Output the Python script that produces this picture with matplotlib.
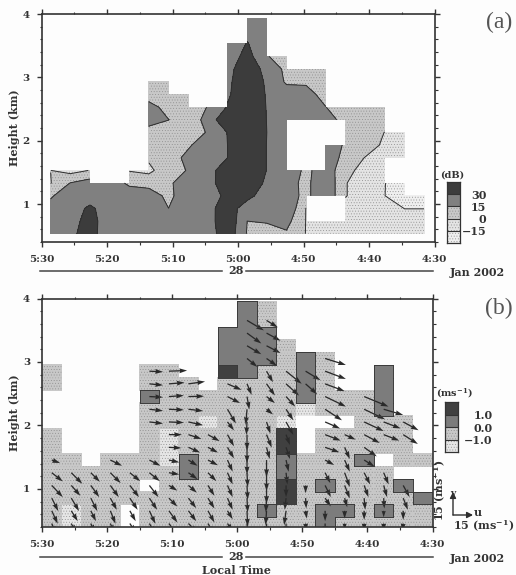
import numpy as np
import matplotlib
matplotlib.use('Agg')
import matplotlib.pyplot as plt
from matplotlib.colors import ListedColormap
from matplotlib.ticker import MultipleLocator

plt.rcParams['font.family'] = ['DejaVu Serif']
plt.rcParams['font.weight'] = 'bold'
plt.rcParams['axes.labelweight'] = 'bold'
plt.rcParams['mathtext.fontset'] = 'dejavuserif'
plt.rcParams['mathtext.default'] = 'bf'
plt.rcParams['hatch.linewidth'] = .3
plt.rcParams['hatch.color'] = '#8c8c8c'

W, H = 516, 575
n = np.nan
INK = '#333333'
STIPPLE = '......'
time_labels = ['5:30', '5:20', '5:10', '5:00', '4:50', '4:40', '4:30']

# (a) reflectivity in dB, bottom row first, one row per 0.2 km, one column per 3 min
db_x = 1.4 + 3 * np.arange(20)
db_y = 0.53 + 0.2 * np.arange(18)
db = np.array([
    [20, 27, 36, 20, 25, 25, 25, 25, 22, 40, 14, 10, 13, -.5, -5, -5, -8, -8, -10, -10],
    [20, 22, 38, 18, 24, 25, 25, 25, 23, 42, 15, 16, 20, -.5, -4, -4, -6, -10, -12, -12],
    [18, 22, 33, 22, 24, 22, 15.1, 22, 24, 40, 20, 22, 29, -.5, n, -3, -6, -10, -15.1, -15.1],
    [14, 20, 22, 22, 18, 25, 10, 28, 22, 34, 36, 20, 22, 11, 28, .5, -5, -14.9, -20, -20],
    [-.5, 15.5, 22, 18, 14, 8, 12, 25, 25, 38, 45, 26, 21, 11, 28, .5, -5, -14.8, -20, n],
    [.1, -5.3, .5, n, -1, -3, 8, 16, 22, 42, 50, 29.5, 24, 12, 22, 7, -8, -10, n, n],
    [n, n, n, n, n, 2, 8, 19, 26, 30, 50, 29.5, 22, n, 25, 10, -.5, -8, -8, n],
    [n, n, n, n, n, 6, 8, 13, 24, 30, 50, 29.5, 22, n, 25, 13, 8, -3, -6, n],
    [n, n, n, n, n, 10, 8, 8, 16, 30.5, 50, 30, 22, n, n, 10, 6, -.2, -8, n],
    [n, n, n, n, n, 20, 15.2, 8, 19, 45, 50, 29.5, 24, 20, 20, 11, 8, 6, n, n],
    [n, n, n, n, n, 20, 10, 8, 15.5, 31, 50, 29, 18, 18, 15.2, 8, 8, 6, n, n],
    [n, n, n, n, n, 8, 6, 5, n, 28, 40, 29, 22, 20, 10, n, n, n, n, n],
    [n, n, n, n, n, 5, 4, n, n, 27, 40, 28, 13, 13, 5, n, n, n, n, n],
    [n, n, n, n, n, n, n, n, n, 24, 42, 24, 12, 8, 4, n, n, n, n, n],
    [n, n, n, n, n, n, n, n, n, 20, 36, 16, 8, n, n, n, n, n, n, n],
    [n, n, n, n, n, n, n, n, n, 17, 31, 18, n, n, n, n, n, n, n, n],
    [n, n, n, n, n, n, n, n, n, n, 25, 22, n, n, n, n, n, n, n, n],
    [n, n, n, n, n, n, n, n, n, n, 22, 22, n, n, n, n, n, n, n, n],
])
db_levels = [-15, 0, 15, 30]
db_colors = ['#efefef', '#e4e4e4', '#c8c8c8', '#808080', '#3c3c3c']
db_hatches = [STIPPLE, STIPPLE, STIPPLE, None, None]

# (b) vertical velocity class per cell, top row first: . none, 1 < -1, 2 -1..0, 3 0..1, 4 > 1
w_x_edges = 3.0 * np.arange(21)
w_y_edges = 0.355 + 0.2 * np.arange(19)
w_rows = [
    '..........32........',
    '..........32........',
    '.........333........',
    '.........3332.......',
    '.........333232.....',
    '2....22..432232..3..',
    '2....222.222232..3..',
    '.....3222222232223..',
    '.....2222222212223..',
    '.....22212221...222.',
    '2....21222224.22222.',
    '2....21222224.22222.',
    '22.22213222232223.22',
    '222222232222322222..',
    '22222.22222242322232.'[:18] + '3.',
    '22222222222242222223',
    '2122.222222322332322',
    '2122.222222222322222',
]
w_cells = np.array([[0 if c == '.' else int(c) for c in r] for r in w_rows[::-1]], dtype=float)
w_labels = ['1.0', '0.0', '\u22121.0']
w_colors = ['#f0f0f0', '#e6e6e6', '#c8c8c8', '#7c7c7c', '#404040']

# horizontal wind at the cell centres, m/s, bottom row first
wind_u = np.array([
    [3.3, 3.5, 3, 3, 4.5, 4.6, 8, 7, 4.6, 4, .5, 0, 0, .5, 0, 0, 0, 0, -.7, n],
    [4.6, 5, 4, 4, 4.5, 4.6, 6.5, 6, 5, 4, .5, -.7, -1.5, 1, 0, 0, 0, 0, 0, n],
    [5, 6, 5, 5, 6, 6, 6.5, 6, 5, 4, .5, -.5, -1, .5, 4.4, 2, .8, .5, 3.6, n],
    [8.5, 7, 6.5, 6.5, 7, 7, 6.5, 6.5, 5, 4, .5, 0, 0, 0, 4.4, 4, 3.3, 2.6, 4.9, n],
    [8.5, 8.5, 7, 8, 8, 8, 8, 7, 6.5, 4, .5, 0, 1, n, 4, 4, 4.6, 3.8, n, n],
    [6.4, n, n, 9, n, 8.5, 8, 7, 7.7, 4, 0, 0, 2, n, 7, 4, 8, n, n, n],
    [n, n, n, n, n, n, 9.5, 9, 7.7, 5, 0, 2.5, 3, n, 11, 4, 9.7, n, n, n],
    [n, n, n, n, n, n, 10, 10, 9, 5, 0, 4, 3, n, 12, 8.5, 12, 12, 11.3, n],
    [n, n, n, n, n, 10.5, 11.5, 11.3, n, 5, -.5, 3, 5.6, n, 11.5, n, 15, 13, 11.8, n],
    [n, n, n, n, n, 10.5, 11.5, 11.3, n, 6.5, -1, 5, 5.6, n, 13, n, 16, 15, n, n],
    [n, n, n, n, n, 10.5, 11.5, 12, n, 9.7, 1.8, 6.5, 7, n, 16, n, 18.7, n, n, n],
    [n, n, n, n, n, 10.5, 12, 12.8, n, 10.8, 3.6, 6.5, 10, 9, 15, n, n, n, n, n],
    [n, n, n, n, n, 10.5, 14, n, n, n, n, 5, 12, 11.5, 16, n, n, n, n, n],
    [n, n, n, n, n, n, n, n, n, n, 8, 8, n, n, 16, n, n, n, n, n],
    [n, n, n, n, n, n, n, n, n, n, 11, 10.8, n, n, n, n, n, n, n, n],
    [n, n, n, n, n, n, n, n, n, n, 11, 10.8, n, n, n, n, n, n, n, n],
    [n, n, n, n, n, n, n, n, n, n, 13, 8.7, n, n, n, n, n, n, n, n],
])
wind_v = np.array([
    [-8, -7, -7, -7, -7, -8, -11, -7, -8, -6, -9, -8, -8, -6, -8, -5, -6, -6, -6, n],
    [-10, -8, -8, -10, -8, -10, -9, -8, -9, -6.5, -12, -11, -11, -6, -8, -6, -7, -5, -7, n],
    [-10, -10, -10, -9, -9, -9, -6.5, -7.7, -8, -9, -11, -11, -9, -8, -6.4, -7, -9, -8, -9, n],
    [-9, -8, -9, -9, -9, -9, -4, -5.6, -8, -9, -11, -14, -9, -6, -9, -10, -9, -9, -9, n],
    [-6.7, -8.5, -7, -8, -6.5, -6.5, -1.3, -5, -6.5, -9, -11, -14, -9, n, -8, -11, -9, -9, n, n],
    [-2.3, n, n, -4.4, n, -4.4, -1.8, -4.4, -4, -9, -11, -13, -9, n, -3.8, -9, -5, n, n, n],
    [n, n, n, n, n, n, -.5, -4, -4, -8.5, -12, -9, -9, n, -3.8, -9, -7, n, n, n],
    [n, n, n, n, n, n, 0, -3.3, -5, -9, -12, -10, -8, n, -4.6, -3.8, -6.4, -4.6, -7.2, n],
    [n, n, n, n, n, -1.2, -.5, -2.5, n, -6.5, -10, -9, -10, n, -5, n, -7, -5, -6.4, n],
    [n, n, n, n, n, -1.2, -.5, -1.3, n, -11, -12, -4, -8.5, n, -8.5, n, -7.7, -4.4, n, n],
    [n, n, n, n, n, -.5, .8, .3, n, -5, -10, -5, -7.7, n, -7.7, n, -7.7, n, n, n],
    [n, n, n, n, n, -1, 1, 1.8, n, -4.6, -8.5, -9, -9, -8, -5.6, n, n, n, n, n],
    [n, n, n, n, n, -.5, .5, n, n, n, n, -8.5, -9.7, -7, -6, n, n, n, n, n],
    [n, n, n, n, n, n, n, n, n, n, -6.5, -5.6, n, n, -5, n, n, n, n, n],
    [n, n, n, n, n, n, n, n, n, n, -6.5, -5.6, n, n, n, n, n, n, n, n],
    [n, n, n, n, n, n, n, n, n, n, -8, -5.9, n, n, n, n, n, n, n, n],
    [n, n, n, n, n, n, n, n, n, n, -7.7, -5.4, n, n, n, n, n, n, n, n],
])


def px_axes(x0, y0, x1, y1):
    return fig.add_axes([x0 / W, 1 - y1 / H, (x1 - x0) / W, (y1 - y0) / H])


def ftext(x, y, s, **kw):
    kw.setdefault('ha', 'center')
    kw.setdefault('va', 'center')
    kw.setdefault('color', INK)
    kw.setdefault('fontsize', 7.5)
    fig.text(x / W, 1 - y / H, s, **kw)


def setup_axes(ax, y_line):
    ax.set_xlim(0, 60)
    ax.set_ylim(0.4, 4)
    ax.set_xticks(np.arange(0, 61, 10))
    ax.set_xticklabels(time_labels)
    ax.set_yticks([1, 2, 3, 4])
    ax.xaxis.set_minor_locator(MultipleLocator(5))
    ax.yaxis.set_minor_locator(MultipleLocator(0.2))
    ax.tick_params(which='major', direction='out', length=3.5, width=1, color=INK,
                   labelsize=7.5, labelcolor=INK, top=True, right=True)
    ax.tick_params(which='minor', direction='out', length=1.8, width=.8, color=INK,
                   top=True, right=True)
    ax.tick_params(axis='x', which='major', pad=6)
    ax.tick_params(axis='y', which='major', pad=5)
    for s in ax.spines.values():
        s.set_linewidth(1.2)
        s.set_color(INK)
    ax.set_facecolor('none')
    ax.set_ylabel('Height (km)', fontsize=8, color=INK, labelpad=2)
    # day line below the time axis
    fig.add_artist(plt.Line2D([40 / W, 222 / W], [1 - y_line / H] * 2, color='#444444', lw=1.1))
    fig.add_artist(plt.Line2D([246 / W, 433 / W], [1 - y_line / H] * 2, color='#444444', lw=1.1))
    ftext(236, y_line + 0.5, '28', fontsize=8)
    ftext(477, y_line + 1.5, 'Jan 2002', fontsize=8)


def colorbar(x0, y0, x1, y1, colors, hatches, labels, pad, title, title_x, title_y):
    # labels go from the top boundary down
    cax = px_axes(x0, y0, x1, y1)
    k = len(colors)
    for i in range(k):
        cax.bar(.5, 1, 1, bottom=i, color=colors[i], hatch=hatches[i], linewidth=0)
    cax.set_xlim(0, 1)
    cax.set_ylim(0, k)
    cax.set_xticks([])
    cax.set_yticks(np.arange(1, k))
    cax.set_yticklabels(labels[::-1], ha='right')
    cax.yaxis.tick_right()
    cax.tick_params(length=0, labelsize=8, labelcolor=INK, pad=pad)
    for y in range(1, k):
        cax.axhline(y, color=INK, lw=.8)
    for s in cax.spines.values():
        s.set_linewidth(.9)
        s.set_color(INK)
    ftext(title_x, title_y, title, fontsize=7)


fig = plt.figure(figsize=(W / 100, H / 100), dpi=100, facecolor='#fdfdfd')

# panel (a)
ax = px_axes(41.5, 14, 434.5, 242)
field = np.ma.masked_invalid(db)
ax.contourf(db_x, db_y, field, levels=db_levels, colors=db_colors, extend='both',
            corner_mask=False, hatches=db_hatches)
ax.contour(db_x, db_y, field, levels=db_levels, colors='#2e2e2e', linewidths=.7,
           linestyles='solid', corner_mask=False)
setup_axes(ax, 270.5)
colorbar(447, 182, 460, 243, db_colors, db_hatches, ['30', '15', '0', '\u221215'], 19,
         '(dB)', 452, 175)
ftext(499, 22, '(a)', family='Liberation Serif', weight='normal', fontsize=17, color='#555555')

# panel (b)
ax = px_axes(42, 298.5, 432.5, 527)
for cls in range(1, 3):
    part = np.ma.masked_where(w_cells != cls, w_cells)
    ax.pcolor(w_x_edges, w_y_edges, part, cmap=ListedColormap([w_colors[cls]]), linewidth=0,
              hatch=STIPPLE, edgecolor='#8c8c8c', antialiased=False)
for cls in range(3, 5):
    part = np.ma.masked_where(w_cells != cls, w_cells)
    ax.pcolormesh(w_x_edges, w_y_edges, part, cmap=ListedColormap([w_colors[cls]]))
# outline of the 0..1 and > 1 blocks
for j in range(w_cells.shape[0]):
    for i in range(w_cells.shape[1]):
        c = w_cells[j, i]
        if c < 3:
            continue
        x0, x1 = w_x_edges[i], w_x_edges[i + 1]
        y0, y1 = w_y_edges[j], w_y_edges[j + 1]
        if i == 0 or w_cells[j, i - 1] != c:
            ax.plot([x0, x0], [y0, y1], color='#3a3a3a', lw=.7)
        if i == w_cells.shape[1] - 1 or w_cells[j, i + 1] != c:
            ax.plot([x1, x1], [y0, y1], color='#3a3a3a', lw=.7)
        if j == 0 or w_cells[j - 1, i] != c:
            ax.plot([x0, x1], [y0, y0], color='#3a3a3a', lw=.7)
        if j == w_cells.shape[0] - 1 or w_cells[j + 1, i] != c:
            ax.plot([x0, x1], [y1, y1], color='#3a3a3a', lw=.7)
wx = (w_x_edges[:-1] + w_x_edges[1:]) / 2
wy = (w_y_edges[:-1] + w_y_edges[1:]) / 2
Q = dict(angles='uv', scale_units='inches', scale=77, units='inches', width=.013,
         headwidth=3.8, headlength=6, headaxislength=5.5, color='#2a2a2a', pivot='tail')
ax.quiver(wx, wy[:17], wind_u, wind_v, **Q)
setup_axes(ax, 556.5)
colorbar(445, 402, 458, 452, w_colors[1:], [STIPPLE, STIPPLE, None, None], w_labels, 25,
         '(ms$^{-1}$)', 454, 393)
ftext(236, 570, 'Local Time', fontsize=8)
ftext(499, 308, '(b)', family='Liberation Serif', weight='normal', fontsize=17, color='#555555')

# wind key
key = dict(arrowstyle='-|>,head_width=.18,head_length=.35', color='#2e2e2e', lw=1, shrinkA=0, shrinkB=0)
ax.annotate('', xy=(473 / W, 1 - 515 / H), xytext=(453 / W, 1 - 515 / H),
            xycoords='figure fraction', arrowprops=key, annotation_clip=False)
ax.annotate('', xy=(453 / W, 1 - 492 / H), xytext=(453 / W, 1 - 515 / H),
            xycoords='figure fraction', arrowprops=key, annotation_clip=False)
ftext(478, 513, 'u', fontsize=8)
ftext(453, 493, 'v', fontsize=6.5)
ftext(440, 490, '15 (ms$^{-1}$)', fontsize=8, rotation=90)
ftext(484, 526, '15 (ms$^{-1}$)', fontsize=8)

fig.savefig('out.png', dpi=100, facecolor=fig.get_facecolor())
